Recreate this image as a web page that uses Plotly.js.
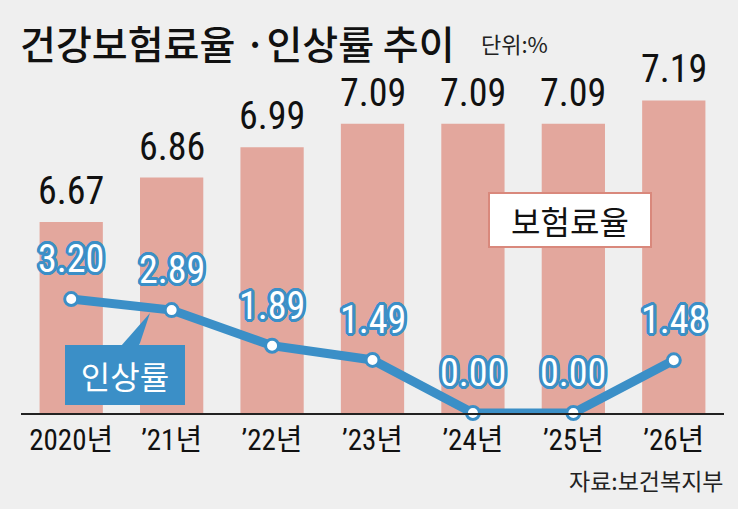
<!DOCTYPE html>
<html><head><meta charset="utf-8">
<script src="https://cdn.plot.ly/plotly-3.0.1.min.js"></script>
<style>html,body{margin:0;padding:0;background:#efefef;}</style>
</head><body><div id="chart" style="width:738px;height:509px;"></div>
<script>
// ---- data ----
const years = ['2020년', '’21년', '’22년', '’23년', '’24년', '’25년', '’26년'];
const premiumRates = [6.67, 6.86, 6.99, 7.09, 7.09, 7.09, 7.19];
const increaseRates = [3.20, 2.89, 1.89, 1.49, 0.00, 0.00, 1.48];

// ---- styling ----
const BAR = '#e3a79d';
const BLUE = '#3b8fc7';
const BG = '#efefef';
const NARROW = '"Roboto Condensed", "Open Sans Condensed", sans-serif';
const KR = '"Noto Sans CJK KR", "Noto Sans", sans-serif';
const MIX = '"Roboto Condensed", "Noto Sans CJK KR", sans-serif';

const M = {l: 21, r: 14, t: 80, b: 96};
const W = 738, H = 509;
const PW = W - M.l - M.r, PH = H - M.t - M.b;
const px = x => (x - M.l) / PW;
const py = y => (H - M.b - y) / PH;

const outline = c => [[-2,-2],[2,-2],[-2,2],[2,2],[0,-3],[0,3],[-3,0],[3,0],[-3,-1],[3,1],[-1,3],[1,-3],[-3,1],[3,-1],[1,3],[-1,-3]]
  .map(d => `${d[0]}px ${d[1]}px 0 ${c}`).join(', ');

const traces = [
  {type: 'bar', x: years, y: premiumRates, marker: {color: BAR}, hoverinfo: 'skip', yaxis: 'y'},
  {type: 'scatter', mode: 'lines+markers', x: years, y: increaseRates, yaxis: 'y2',
   line: {color: BLUE, width: 9}, cliponaxis: false,
   marker: {size: 13, color: 'white', line: {color: BLUE, width: 3}}, hoverinfo: 'skip'}
];

const annotations = [];
years.forEach((yr, i) => {
  annotations.push({x: yr, y: premiumRates[i], xref: 'x', yref: 'y', yanchor: 'bottom',
    yshift: 7, showarrow: false, text: premiumRates[i].toFixed(2),
    font: {family: NARROW, size: 38, color: '#111'}});
  annotations.push({x: yr, y: increaseRates[i], xref: 'x', yref: 'y2', yanchor: 'middle',
    yshift: 40, showarrow: false, text: increaseRates[i].toFixed(2),
    font: {family: NARROW, size: 38, color: 'white', shadow: outline(BLUE)}});
});
annotations.push(
  {xref: 'paper', yref: 'paper', x: px(479), y: py(43), xanchor: 'left', yanchor: 'middle',
   showarrow: false, text: '단위:%', font: {family: KR, size: 22, color: '#222'}},
  {xref: 'paper', yref: 'paper', x: px(726), y: py(480), xanchor: 'right', yanchor: 'middle',
   showarrow: false, text: '자료:보건복지부', font: {family: KR, size: 23, color: '#222'}},
  {xref: 'paper', yref: 'paper', x: px(570), y: py(220), xanchor: 'center', yanchor: 'middle',
   showarrow: false, text: '보험료율', width: 160, height: 52, borderpad: 0, borderwidth: 2,
   bordercolor: '#d9887c', bgcolor: 'white', font: {family: KR, size: 32, color: '#111'}},
  {xref: 'paper', yref: 'paper', x: px(125), y: py(375), xanchor: 'center', yanchor: 'middle',
   showarrow: false, text: '인상률', width: 120, height: 60, borderpad: 0, borderwidth: 0,
   bgcolor: BLUE, font: {family: KR, size: 32, color: 'white'}}
);

const shapes = [
  {type: 'path', xref: 'paper', yref: 'paper', layer: 'above',
   path: `M ${px(121)} ${py(346)} L ${px(139)} ${py(346)} L ${px(150)} ${py(313)} Z`,
   fillcolor: BLUE, line: {width: 0}}
];

const layout = {
  width: W, height: H, margin: M,
  paper_bgcolor: BG, plot_bgcolor: BG,
  showlegend: false, bargap: 0.37,
  title: {text: '건강보험료율 ·인상률 추이', xref: 'container', yref: 'container',
    x: 20 / W, xanchor: 'left', y: 1 - 45 / H, yanchor: 'middle',
    font: {family: KR, size: 39, color: '#111', weight: 500}},
  xaxis: {type: 'category', showline: true, linecolor: '#222', linewidth: 2,
    ticks: '', showgrid: false, zeroline: false, fixedrange: true,
    tickfont: {family: MIX, size: 29, color: '#111'}},
  yaxis: {range: [5.854, 5.854 + PH / 234], visible: false, fixedrange: true},
  yaxis2: {range: [0, PH / 35.6], overlaying: 'y', visible: false, fixedrange: true},
  annotations: annotations, shapes: shapes
};

Plotly.newPlot('chart', traces, layout, {displayModeBar: false, staticPlot: true});
</script></body></html>
